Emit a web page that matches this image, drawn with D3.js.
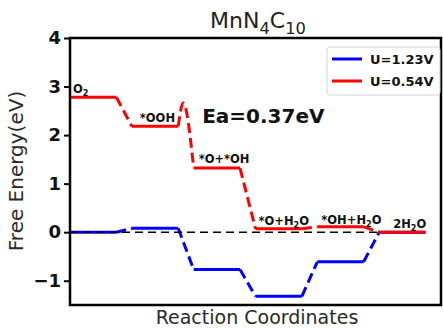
<!DOCTYPE html>
<html><head><meta charset="utf-8">
<script src="https://cdn.jsdelivr.net/npm/d3@7"></script>
<style>
body{margin:0;background:#fff}
svg{display:block}
text{font-family:"DejaVu Sans",sans-serif}
</style>
</head><body>
<svg id="chart" width="443" height="328"></svg>
<script>
// Reaction steps and free energies (eV)
const steps = ["O2", "*OOH", "*O+*OH", "*O+H2O", "*OH+H2O", "2H2O"];
const energyU054 = [2.78, 2.18, 1.32, 0.07, 0.11, 0.0];
const energyU123 = [0.0, 0.08, -0.77, -1.32, -0.61, 0.0];
// transition state between *OOH and *O+*OH at U=0.54V
const tsPosition = 1.83;
const tsEnergy = 2.66;
const seriesNames = ["U=1.23V", "U=0.54V"];
const seriesColors = ["#0000ff", "#ff0000"];
const yTicks = [-1, 0, 1, 2, 3, 4];
const barrierLabel = "Ea=0.37eV";
const title = "MnN4C10";

const W = 443, H = 328;
const margin = {left: 70, right: 2, top: 38, bottom: 23};
const svg = d3.select("#chart");

const x = d3.scaleLinear().domain([0, 6]).range([margin.left, W - margin.right]);
const y = d3.scaleLinear().domain([-1.5, 4]).range([H - margin.bottom, margin.top]);
const levelWidth = 0.75;

// text with chemical subscripts: a digit following a letter is lowered
function chemText(sel, str, size, subRatio) {
  const parts = [];
  for (let i = 0; i < str.length; i++) {
    const c = str[i];
    const prev = parts.length ? parts[parts.length - 1] : null;
    const isSub = /[0-9]/.test(c) && i > 0 &&
      (/[A-Za-z]/.test(str[i - 1]) || (prev && prev.sub));
    if (prev && prev.sub === isSub) prev.t += c;
    else parts.push({t: c, sub: isSub});
  }
  const shift = size * 0.28;
  let lowered = false;
  parts.forEach(p => {
    const ts = sel.append("tspan").text(p.t);
    if (p.sub) {
      ts.attr("font-size", size * (subRatio || 0.7)).attr("dy", lowered ? 0 : shift);
      lowered = true;
    } else {
      ts.attr("font-size", size).attr("dy", lowered ? -shift : 0);
      lowered = false;
    }
  });
}

const lineW = 3;
const dash = "10,5";

function drawSeries(values, color, ts) {
  const g = svg.append("g");
  // energy levels
  values.forEach((v, i) => {
    g.append("line")
      .attr("x1", x(i)).attr("x2", x(i + levelWidth))
      .attr("y1", y(v)).attr("y2", y(v))
      .attr("stroke", color).attr("stroke-width", lineW);
  });
  // connectors between consecutive levels
  for (let i = 0; i < values.length - 1; i++) {
    let pts = [[i + levelWidth, values[i]], [i + 1, values[i + 1]]];
    let curve = d3.curveLinear;
    if (ts && ts.after === i) {
      pts = [[i + levelWidth, values[i]], [ts.pos, ts.energy], [i + 1, values[i + 1]]];
      curve = d3.curveMonotoneX;
    }
    g.append("path")
      .attr("d", d3.line().x(d => x(d[0])).y(d => y(d[1])).curve(curve)(pts))
      .attr("fill", "none").attr("stroke", color)
      .attr("stroke-width", lineW).attr("stroke-dasharray", dash);
  }
}

drawSeries(energyU123, seriesColors[0], null);
drawSeries(energyU054, seriesColors[1], {after: 1, pos: tsPosition, energy: tsEnergy});

// zero reference
svg.append("line")
  .attr("x1", x(0)).attr("x2", x(5) - 2)
  .attr("y1", y(0)).attr("y2", y(0))
  .attr("stroke", "#000").attr("stroke-width", 1.5)
  .attr("stroke-dasharray", "8,5");

// step labels above the U=0.54V levels
const labelDx = [3, 8, 5, 3, 4, 14];
const labelDy = [-4, -4, -5, -4, -3, -4];
steps.forEach((s, i) => {
  const t = svg.append("text")
    .attr("x", x(i) + labelDx[i]).attr("y", y(energyU054[i]) + labelDy[i])
    .attr("font-weight", "bold").attr("fill", "#111");
  chemText(t, s, 11.5, 0.7);
});

// barrier annotation
svg.append("text")
  .attr("x", x(tsPosition) + 19).attr("y", 123)
  .attr("font-size", 20).attr("font-weight", "bold").attr("fill", "#111")
  .text(barrierLabel);

// axes frame
const frame = svg.append("g").attr("stroke", "#000").attr("stroke-width", 2.5);
frame.append("rect")
  .attr("x", margin.left).attr("y", margin.top)
  .attr("width", W - margin.right - margin.left)
  .attr("height", H - margin.bottom - margin.top)
  .attr("fill", "none");

const yAxis = d3.axisLeft(y).tickValues(yTicks).tickSize(6).tickPadding(3)
  .tickFormat(d => d < 0 ? "\u2212" + Math.abs(d) : d);
const ya = svg.append("g").attr("transform", `translate(${margin.left},0)`).call(yAxis);
ya.select(".domain").remove();
ya.selectAll(".tick line").attr("stroke-width", 2);
ya.selectAll(".tick text")
  .attr("font-family", "DejaVu Sans").attr("font-size", 18)
  .attr("font-weight", "bold").attr("fill", "#111");

// title
const tt = svg.append("text").attr("x", 258).attr("y", 28)
  .attr("text-anchor", "middle").attr("fill", "#222");
chemText(tt, title, 22, 0.74);

// axis titles
svg.append("text").attr("x", 257).attr("y", 324)
  .attr("text-anchor", "middle").attr("font-size", 19).attr("fill", "#2a2a2a")
  .text("Reaction Coordinates");
svg.append("text").attr("transform", "translate(23,171) rotate(-90)")
  .attr("text-anchor", "middle").attr("font-size", 20).attr("fill", "#2a2a2a")
  .text("Free Energy(eV)");

// legend
const lg = svg.append("g").attr("transform", "translate(327,47)");
lg.append("rect").attr("width", 113).attr("height", 48).attr("rx", 3)
  .attr("fill", "#fff").attr("fill-opacity", 0.85)
  .attr("stroke", "#d4d4d4").attr("stroke-width", 1);
seriesNames.forEach((n, i) => {
  const yy = 12 + i * 22;
  lg.append("line").attr("x1", 5).attr("x2", 35).attr("y1", yy).attr("y2", yy)
    .attr("stroke", seriesColors[i]).attr("stroke-width", 3);
  lg.append("text").attr("x", 43).attr("y", yy + 5)
    .attr("font-size", 13).attr("font-weight", "bold").attr("fill", "#111")
    .text(n);
});
</script>
</body></html>
